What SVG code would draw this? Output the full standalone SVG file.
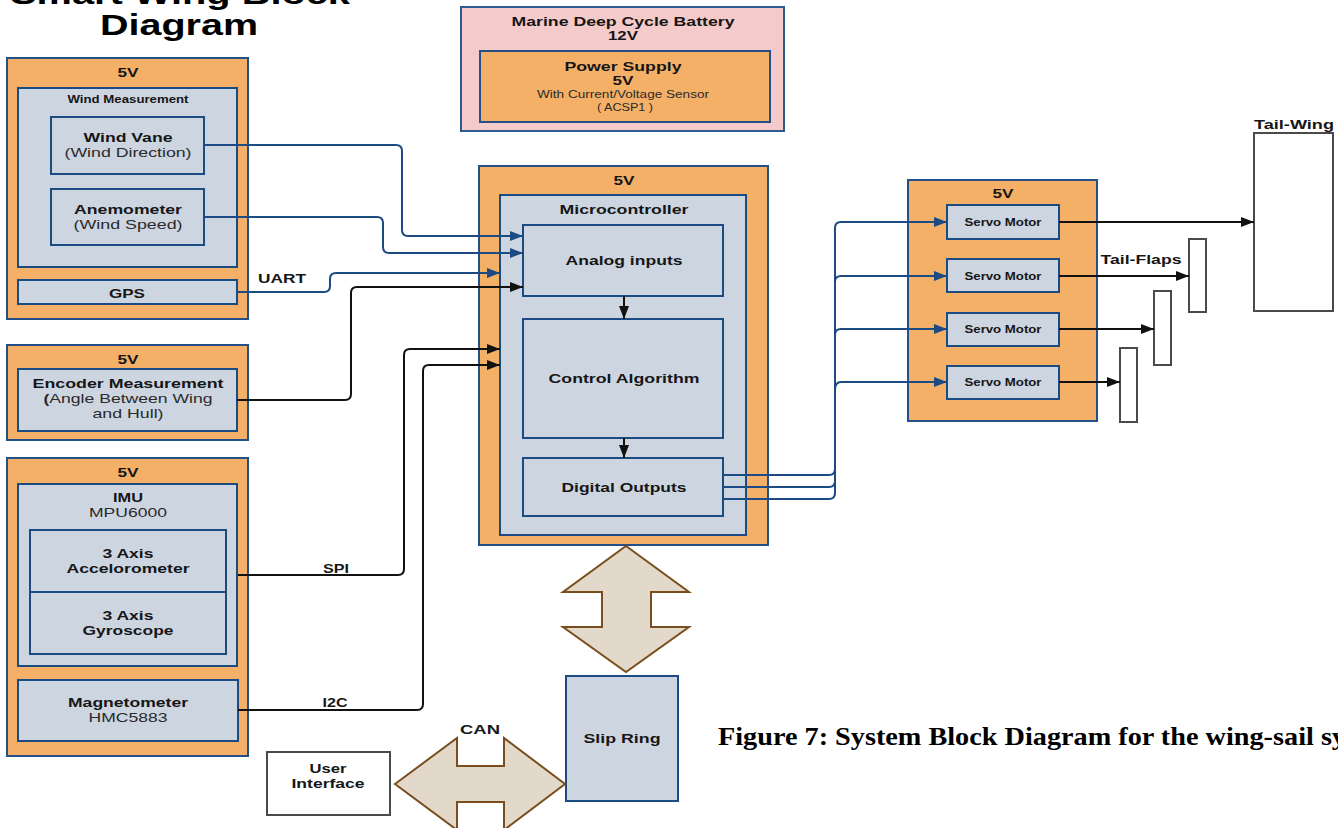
<svg xmlns="http://www.w3.org/2000/svg" width="1338" height="828" viewBox="0 0 1338 828">
<defs>
<style>
text{font-family:"Liberation Sans",Arial,sans-serif;fill:#161616;text-anchor:middle}
.b{font-weight:bold}
.r{fill:#2a2a2a}
.s13{font-size:13px}
.s11{font-size:11px}
.s10{font-size:10.5px}
.org{fill:#F4B067;stroke:#24508A;stroke-width:2}
.gry{fill:#CDD5E1;stroke:#1C4A82;stroke-width:2}
.pnk{fill:#F4CACB;stroke:#2E5B8E;stroke-width:2}
.wht{fill:#fff;stroke:#4a4a4a;stroke-width:2}
.big{fill:#E3D9CB;stroke:#7A4E1C;stroke-width:2}
.cb{fill:none;stroke:#1C4A82;stroke-width:2}
.ck{fill:none;stroke:#111;stroke-width:2}
.title{font-size:29px;font-weight:bold;fill:#000}
.cap{font-family:"Liberation Serif","Times New Roman",serif;font-size:26px;font-weight:bold;fill:#000;text-anchor:start}
</style>
<marker id="ab" markerUnits="userSpaceOnUse" markerWidth="14" markerHeight="12" refX="13" refY="5" orient="auto"><path d="M0,0 L13,5 L0,10 z" fill="#1C4A82"/></marker>
<marker id="ak" markerUnits="userSpaceOnUse" markerWidth="14" markerHeight="12" refX="13" refY="5" orient="auto"><path d="M0,0 L13,5 L0,10 z" fill="#111"/></marker>
</defs>

<g id="title">
<text class="title" x="180" y="4" textLength="340" lengthAdjust="spacingAndGlyphs">Smart Wing Block</text>
<text class="title" x="179" y="35" textLength="158" lengthAdjust="spacingAndGlyphs">Diagram</text>
</g>

<g id="wind-group">
<rect class="org" x="7" y="58" width="241" height="261"/>
<text class="b s13" x="128" y="77" textLength="21" lengthAdjust="spacingAndGlyphs">5V</text>
<rect class="gry" x="18" y="88" width="219" height="179"/>
<text class="b s10" x="128" y="103" textLength="121" lengthAdjust="spacingAndGlyphs">Wind Measurement</text>
</g>
<g id="wind-vane">
<rect class="gry" x="51" y="117" width="153" height="57"/>
<text class="b s13" x="128" y="142" textLength="89" lengthAdjust="spacingAndGlyphs">Wind Vane</text>
<text class="r s13" x="128" y="157" textLength="127" lengthAdjust="spacingAndGlyphs">(Wind Direction)</text>
</g>
<g id="anemometer">
<rect class="gry" x="51" y="189" width="153" height="56"/>
<text class="b s13" x="128" y="214" textLength="108" lengthAdjust="spacingAndGlyphs">Anemometer</text>
<text class="r s13" x="128" y="229" textLength="109" lengthAdjust="spacingAndGlyphs">(Wind Speed)</text>
</g>
<g id="gps">
<rect class="gry" x="18" y="280" width="219" height="24"/>
<text class="b s13" x="127" y="298" textLength="36" lengthAdjust="spacingAndGlyphs">GPS</text>
</g>

<g id="encoder">
<rect class="org" x="7" y="345" width="241" height="95"/>
<text class="b s13" x="128" y="364" textLength="21" lengthAdjust="spacingAndGlyphs">5V</text>
<rect class="gry" x="18" y="369" width="219" height="62"/>
<text class="b s13" x="128" y="388" textLength="191" lengthAdjust="spacingAndGlyphs">Encoder Measurement</text>
<text class="r s13" x="128" y="403" textLength="169" lengthAdjust="spacingAndGlyphs"><tspan class="b">(</tspan>Angle Between Wing</text>
<text class="r s13" x="128" y="418" textLength="71" lengthAdjust="spacingAndGlyphs">and Hull)</text>
</g>

<g id="imu-group">
<rect class="org" x="7" y="458" width="241" height="298"/>
<text class="b s13" x="128" y="477" textLength="21" lengthAdjust="spacingAndGlyphs">5V</text>
<rect class="gry" x="18" y="484" width="219" height="182"/>
<text class="b s13" x="128" y="502" textLength="30" lengthAdjust="spacingAndGlyphs">IMU</text>
<text class="r s13" x="128" y="517" textLength="78" lengthAdjust="spacingAndGlyphs">MPU6000</text>
</g>
<g id="accelerometer">
<rect class="gry" x="30" y="530" width="196" height="62"/>
<text class="b s13" x="128" y="558" textLength="51" lengthAdjust="spacingAndGlyphs">3 Axis</text>
<text class="b s13" x="128" y="573" textLength="123" lengthAdjust="spacingAndGlyphs">Accelorometer</text>
</g>
<g id="gyroscope">
<rect class="gry" x="30" y="592" width="196" height="62"/>
<text class="b s13" x="128" y="620" textLength="51" lengthAdjust="spacingAndGlyphs">3 Axis</text>
<text class="b s13" x="128" y="635" textLength="91" lengthAdjust="spacingAndGlyphs">Gyroscope</text>
</g>
<g id="magnetometer">
<rect class="gry" x="18" y="680" width="220" height="61"/>
<text class="b s13" x="128" y="707" textLength="120" lengthAdjust="spacingAndGlyphs">Magnetometer</text>
<text class="r s13" x="128" y="722" textLength="79" lengthAdjust="spacingAndGlyphs">HMC5883</text>
</g>

<g id="battery">
<rect class="pnk" x="461" y="7" width="323" height="124"/>
<text class="b s13" x="623" y="26" textLength="223" lengthAdjust="spacingAndGlyphs">Marine Deep Cycle Battery</text>
<text class="b s13" x="623" y="40" textLength="30" lengthAdjust="spacingAndGlyphs">12V</text>
</g>
<g id="power-supply">
<rect class="org" x="480" y="51" width="290" height="71"/>
<text class="b s13" x="623" y="71" textLength="117" lengthAdjust="spacingAndGlyphs">Power Supply</text>
<text class="b s13" x="623" y="85" textLength="21" lengthAdjust="spacingAndGlyphs">5V</text>
<text class="r s11" x="623" y="98" textLength="172" lengthAdjust="spacingAndGlyphs">With Current/Voltage Sensor</text>
<text class="r s11" x="625" y="111" textLength="56" lengthAdjust="spacingAndGlyphs">( ACSP1 )</text>
</g>

<g id="mcu-power">
<rect class="org" x="479" y="166" width="289" height="379"/>
<text class="b s13" x="624" y="185" textLength="21" lengthAdjust="spacingAndGlyphs">5V</text>
</g>
<g id="microcontroller">
<rect class="gry" x="500" y="195" width="246" height="340"/>
<text class="b s13" x="624" y="214" textLength="129" lengthAdjust="spacingAndGlyphs">Microcontroller</text>
</g>
<g id="analog-inputs">
<rect class="gry" x="523" y="225" width="200" height="71"/>
<text class="b s13" x="624" y="265" textLength="117" lengthAdjust="spacingAndGlyphs">Analog inputs</text>
</g>
<g id="control-algorithm">
<rect class="gry" x="523" y="319" width="200" height="119"/>
<text class="b s13" x="624" y="383" textLength="151" lengthAdjust="spacingAndGlyphs">Control Algorithm</text>
</g>
<g id="digital-outputs">
<rect class="gry" x="523" y="458" width="200" height="58"/>
<text class="b s13" x="624" y="492" textLength="125" lengthAdjust="spacingAndGlyphs">Digital Outputs</text>
</g>

<g id="servo-group">
<rect class="org" x="908" y="180" width="189" height="241"/>
<text class="b s13" x="1003" y="198" textLength="21" lengthAdjust="spacingAndGlyphs">5V</text>
</g>
<g id="servo1">
<rect class="gry" x="947" y="205" width="112" height="34"/>
<text class="b s10" x="1003" y="226" textLength="77" lengthAdjust="spacingAndGlyphs">Servo Motor</text>
</g>
<g id="servo2">
<rect class="gry" x="947" y="259" width="112" height="33"/>
<text class="b s10" x="1003" y="280" textLength="77" lengthAdjust="spacingAndGlyphs">Servo Motor</text>
</g>
<g id="servo3">
<rect class="gry" x="947" y="313" width="112" height="33"/>
<text class="b s10" x="1003" y="333" textLength="77" lengthAdjust="spacingAndGlyphs">Servo Motor</text>
</g>
<g id="servo4">
<rect class="gry" x="947" y="366" width="112" height="33"/>
<text class="b s10" x="1003" y="386" textLength="77" lengthAdjust="spacingAndGlyphs">Servo Motor</text>
</g>

<g id="tail-wing">
<rect class="wht" x="1254" y="133" width="79" height="178"/>
<text class="b s13" x="1294" y="129" textLength="80" lengthAdjust="spacingAndGlyphs">Tail-Wing</text>
</g>
<g id="tail-flaps">
<text class="b s13" x="1141" y="264" textLength="81" lengthAdjust="spacingAndGlyphs">Tail-Flaps</text>
<rect class="wht" x="1189" y="239" width="17" height="73"/>
<rect class="wht" x="1154" y="291" width="17" height="74"/>
<rect class="wht" x="1120" y="348" width="17" height="74"/>
</g>

<g id="slip-ring">
<rect class="gry" x="566" y="676" width="112" height="125"/>
<text class="b s13" x="622" y="743" textLength="77" lengthAdjust="spacingAndGlyphs">Slip Ring</text>
</g>
<g id="user-interface">
<rect class="wht" x="267" y="752" width="123" height="63"/>
<text class="b s13" x="328" y="773" textLength="37" lengthAdjust="spacingAndGlyphs">User</text>
<text class="b s13" x="328" y="788" textLength="73" lengthAdjust="spacingAndGlyphs">Interface</text>
</g>

<g id="connectors">
<path class="cb" marker-end="url(#ab)" d="M204,145 H396 Q402,145 402,151 V230 Q402,236 408,236 H523"/>
<path class="cb" marker-end="url(#ab)" d="M204,217 H377 Q383,217 383,223 V247 Q383,253 389,253 H523"/>
<path class="cb" marker-end="url(#ab)" d="M237,292 H324 Q330,292 330,286 V279 Q330,273 336,273 H500"/>
<path class="ck" marker-end="url(#ak)" d="M237,400 H345 Q351,400 351,394 V293 Q351,287 357,287 H523"/>
<path class="ck" marker-end="url(#ak)" d="M238,575 H398 Q404,575 404,569 V355 Q404,349 410,349 H500"/>
<path class="ck" marker-end="url(#ak)" d="M238,710 H417 Q423,710 423,704 V371 Q423,365 429,365 H500"/>
<path class="ck" marker-end="url(#ak)" d="M624,296 V319"/>
<path class="ck" marker-end="url(#ak)" d="M624,438 V458"/>
<path class="cb" marker-end="url(#ab)" d="M723,475 H829 Q835,475 835,469 V228 Q835,222 841,222 H947"/>
<path class="cb" marker-end="url(#ab)" d="M723,487 H829 Q835,487 835,481 V282 Q835,276 841,276 H947"/>
<path class="cb" marker-end="url(#ab)" d="M723,499 H829 Q835,499 835,493 V335 Q835,329 841,329 H947"/>
<path class="cb" marker-end="url(#ab)" d="M835,390 Q835,382 841,382 H947"/>
<path class="ck" marker-end="url(#ak)" d="M1059,222 H1254"/>
<path class="ck" marker-end="url(#ak)" d="M1059,276 H1189"/>
<path class="ck" marker-end="url(#ak)" d="M1059,329 H1154"/>
<path class="ck" marker-end="url(#ak)" d="M1059,382 H1120"/>
<text class="b s13" x="282" y="283" textLength="48" lengthAdjust="spacingAndGlyphs">UART</text>
<text class="b s13" x="336" y="573" textLength="26" lengthAdjust="spacingAndGlyphs">SPI</text>
<text class="b s13" x="335" y="707" textLength="25" lengthAdjust="spacingAndGlyphs">I2C</text>
<path id="mcu-slip-arrow" class="big" d="M626,546 L689,592 H651 V627 H689 L626,672 L563,627 H602 V592 H563 Z"/>
<path id="can-arrow" class="big" d="M395,784 L457,738 V766 H504 V738 L565,784 L504,830 V802 H457 V830 Z"/>
<text class="b s13" x="480" y="734" textLength="40" lengthAdjust="spacingAndGlyphs">CAN</text>
</g>

<g id="caption">
<text class="cap" x="718" y="745" textLength="628" lengthAdjust="spacingAndGlyphs">Figure 7: System Block Diagram for the wing-sail sy</text>
</g>
</svg>
